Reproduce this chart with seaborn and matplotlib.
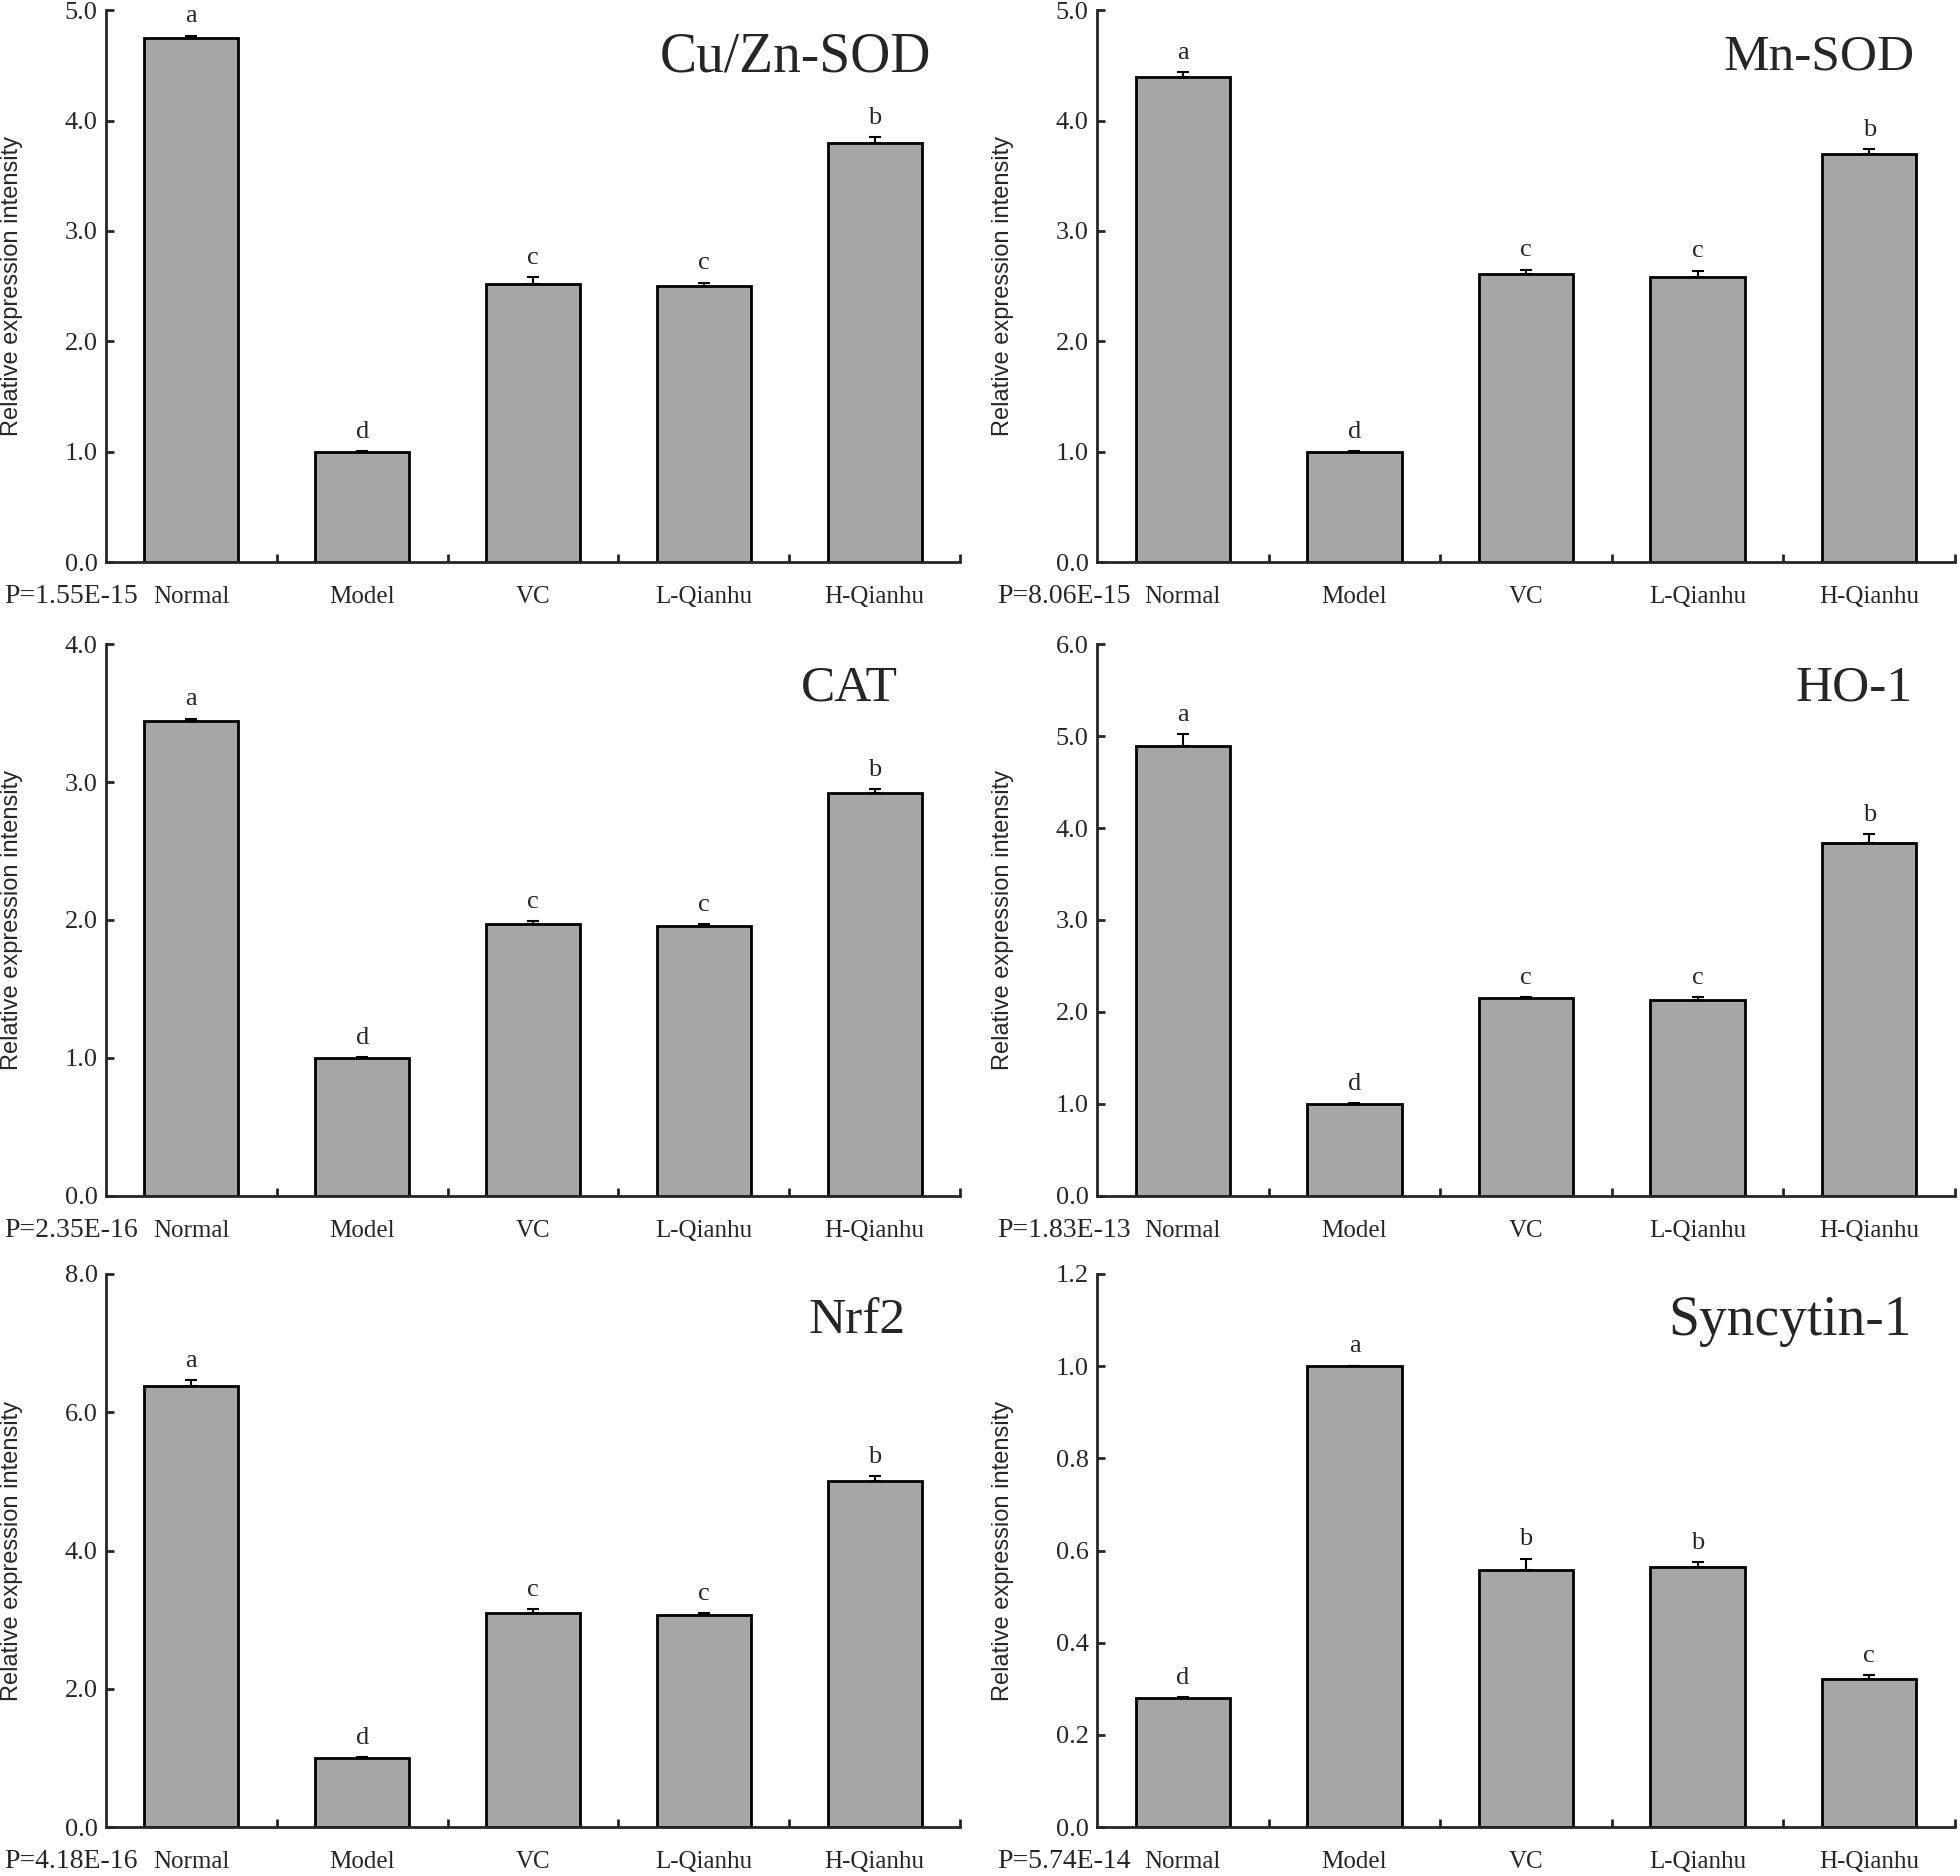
import numpy as np
import matplotlib
matplotlib.use("Agg")
import matplotlib.pyplot as plt
import seaborn as sns

# Data kelompok perlakuan
groups = ["Normal", "Model", "VC", "L-Qianhu", "H-Qianhu"]

# Nilai rata-rata tiap gen
cuzn_sod = [4.75, 1.00, 2.52, 2.50, 3.80]
mn_sod = [4.39, 1.00, 2.61, 2.58, 3.70]
cat = [3.44, 1.00, 1.97, 1.96, 2.92]
ho1 = [4.89, 1.00, 2.15, 2.13, 3.84]
nrf2 = [6.38, 1.00, 3.10, 3.07, 5.01]
syncytin1 = [0.279, 1.000, 0.557, 0.565, 0.322]

# Error bar (SD, hanya ke atas)
cuzn_sod_err = [0.02, 0.005, 0.06, 0.03, 0.05]
mn_sod_err = [0.05, 0.005, 0.04, 0.06, 0.04]
cat_err = [0.02, 0.005, 0.02, 0.01, 0.03]
ho1_err = [0.13, 0.01, 0.01, 0.03, 0.09]
nrf2_err = [0.08, 0.01, 0.05, 0.02, 0.07]
syncytin1_err = [0.003, 0.001, 0.025, 0.010, 0.008]

# Huruf signifikansi
cuzn_sod_sig = ["a", "d", "c", "c", "b"]
mn_sod_sig = ["a", "d", "c", "c", "b"]
cat_sig = ["a", "d", "c", "c", "b"]
ho1_sig = ["a", "d", "c", "c", "b"]
nrf2_sig = ["a", "d", "c", "c", "b"]
syncytin1_sig = ["d", "a", "b", "b", "c"]

titles = ["Cu/Zn-SOD", "Mn-SOD", "CAT", "HO-1", "Nrf2", "Syncytin-1"]
p_values = ["P=1.55E-15", "P=8.06E-15", "P=2.35E-16", "P=1.83E-13", "P=4.18E-16", "P=5.74E-14"]
y_max = [5.0, 5.0, 4.0, 6.0, 8.0, 1.2]
y_step = [1.0, 1.0, 1.0, 1.0, 2.0, 0.2]

values = [cuzn_sod, mn_sod, cat, ho1, nrf2, syncytin1]
errors = [cuzn_sod_err, mn_sod_err, cat_err, ho1_err, nrf2_err, syncytin1_err]
letters = [cuzn_sod_sig, mn_sod_sig, cat_sig, ho1_sig, nrf2_sig, syncytin1_sig]

# Posisi axes (left, bottom, width, height) dalam fraksi figure
left_col = [0.0541, 0.4357]
right_col = [0.5597, 0.4378]
rows = [[0.7004, 0.2942], [0.3625, 0.2942], [0.0261, 0.2948]]
positions = []
for r in rows:
    positions.append([left_col[0], r[0], left_col[1], r[1]])
    positions.append([right_col[0], r[0], right_col[1], r[1]])

title_x = [0.966, 0.953, 0.927, 0.950, 0.936, 0.950]
title_y = [0.915, 0.915, 0.92, 0.92, 0.915, 0.915]
title_size = [40, 37, 37, 37, 37, 40]

# Set style
sns.set_style("ticks")
plt.rcParams["font.family"] = ["Liberation Serif", "DejaVu Serif"]

fig = plt.figure(figsize=(19.6, 18.76), dpi=100)

for i in range(6):
    ax = fig.add_axes(positions[i])
    sns.barplot(x=groups, y=values[i], color="#a6a6a6", saturation=1, edgecolor="black",
                linewidth=2, width=0.55, errorbar=None, ax=ax)
    ax.errorbar(range(5), values[i], yerr=[np.zeros(5), errors[i]], fmt="none",
                ecolor="black", elinewidth=1.5, capsize=4, capthick=1.5)

    # Huruf di atas bar
    for j in range(5):
        ax.annotate(letters[i][j], (j, values[i][j] + errors[i][j]), xytext=(0, 6),
                    textcoords="offset points", ha="center", va="bottom", fontsize=19)

    ax.set_xlim(-0.5, 4.5)
    ax.set_ylim(0, y_max[i])
    ax.set_yticks(np.arange(0, y_max[i] + y_step[i] / 2, y_step[i]))
    ax.yaxis.set_major_formatter(matplotlib.ticker.FormatStrFormatter("%.1f"))
    ax.set_xticks([0.5, 1.5, 2.5, 3.5, 4.5], minor=True)
    ax.tick_params(axis="x", which="major", length=0, pad=17, labelsize=18)
    ax.tick_params(axis="x", which="minor", direction="in", length=6, width=2)
    ax.tick_params(axis="y", direction="in", length=6, width=2, labelsize=19, pad=6)

    for side in ["top", "right"]:
        ax.spines[side].set_visible(False)
    for side in ["left", "bottom"]:
        ax.spines[side].set_linewidth(2)

    ax.set_xlabel("")
    ax.set_ylabel("Relative expression intensity", family=["Liberation Sans", "DejaVu Sans"],
                  fontsize=17)
    ax.yaxis.set_label_coords(-0.097, 0.5)

    ax.text(title_x[i], title_y[i], titles[i], transform=ax.transAxes, ha="right",
            va="center", fontsize=title_size[i])
    p_x = -0.1194 if i % 2 == 0 else -0.1166
    ax.annotate(p_values[i], (p_x, 0), xycoords="axes fraction", xytext=(0, -16),
                textcoords="offset points", ha="left", va="top", fontsize=20)

plt.savefig("out.png", dpi=100)
